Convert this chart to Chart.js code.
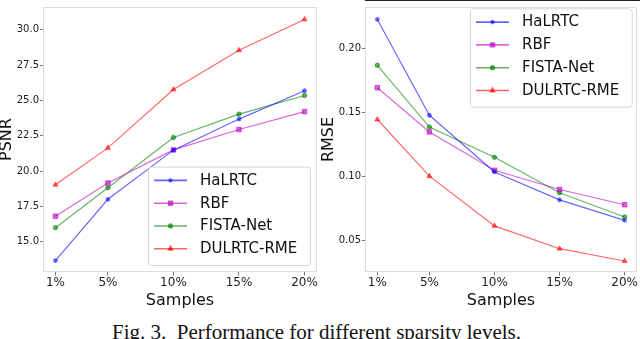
<!DOCTYPE html>
<html><head><meta charset="utf-8">
<script src="https://cdn.jsdelivr.net/npm/chart.js@4/dist/chart.umd.min.js"></script>
<style>
html,body{margin:0;padding:0;background:#fff;width:640px;height:339px;overflow:hidden;position:relative}
.box{position:absolute;top:0;width:320px;height:320px}
#caption{position:absolute;left:112px;top:322px;font-family:"Liberation Serif",serif;font-size:21px;line-height:21px;white-space:pre;color:#111}
</style></head><body>
<div class="box" style="left:0"><canvas id="c1"></canvas></div>
<div class="box" style="left:320px"><canvas id="c2"></canvas></div>
<div id="caption">Fig. 3.  Performance for different sparsity levels.</div>
<script>
// ---- data ----
const samples = [1, 5, 10, 15, 20];
const sampleLabels = ['1%', '5%', '10%', '15%', '20%'];
const methods = ['HaLRTC', 'RBF', 'FISTA-Net', 'DULRTC-RME'];
const psnrHaLRTC = [13.65, 18.0, 21.48, 23.68, 25.69];
const psnrRBF    = [16.8, 19.15, 21.5, 22.94, 24.21];
const psnrFISTA  = [15.99, 18.82, 22.38, 24.03, 25.35];
const psnrDULRTC = [19.03, 21.64, 25.78, 28.56, 30.74];
const rmseHaLRTC = [0.2228, 0.148, 0.1038, 0.082, 0.066];
const rmseRBF    = [0.1695, 0.135, 0.1051, 0.0901, 0.0782];
const rmseFISTA  = [0.187, 0.1388, 0.1152, 0.0876, 0.0686];
const rmseDULRTC = [0.1447, 0.1005, 0.0617, 0.0439, 0.0343];
const psnrTicks = [15, 17.5, 20, 22.5, 25, 27.5, 30];
const rmseTicks = [0.05, 0.10, 0.15, 0.20];

// ---- styles ----
const colors = ['rgba(0,0,255,0.6)', 'rgba(191,0,191,0.6)', 'rgba(0,128,0,0.6)', 'rgba(255,0,0,0.6)'];
const pStyles = ['star', 'rect', 'circle', 'triangle'];
const pRadius = [2.4, 3.2, 2.2, 2.8];
const FONT = 'DejaVu Sans';

function makeDatasets(series) {
  return series.map((vals, i) => ({
    label: methods[i],
    data: samples.map((s, j) => ({x: s, y: vals[j]})),
    borderColor: colors[i],
    backgroundColor: colors[i],
    borderWidth: 1.15,
    pointStyle: pStyles[i],
    pointRadius: pRadius[i],
    pointBorderWidth: i === 0 ? 1.3 : 1,
    pointBackgroundColor: colors[i],
    pointBorderColor: colors[i],
    tension: 0
  }));
}

const framePlugin = {
  id: 'frame',
  beforeDatasetsDraw(chart, args, opts) {
    const {ctx, chartArea: a} = chart;
    ctx.save();
    ctx.strokeStyle = '#dcdcdc';
    ctx.lineWidth = 1;
    ctx.strokeRect(a.left + 0.5, a.top + 0.5, a.right - a.left - 1, a.bottom - a.top - 1);
    if (opts.darkTop) {
      ctx.strokeStyle = '#222';
      ctx.lineWidth = 2;
      ctx.beginPath(); ctx.moveTo(a.left, 0); ctx.lineTo(chart.width, 0); ctx.stroke();
    }
    ctx.restore();
  }
};

const legendPlugin = {
  id: 'boxLegend',
  afterDatasetsDraw(chart, args, o) {
    const ctx = chart.ctx;
    ctx.save();
    ctx.beginPath();
    if (ctx.roundRect) ctx.roundRect(o.x + 0.5, o.y + 0.5, o.w, o.h, 3); else ctx.rect(o.x + 0.5, o.y + 0.5, o.w, o.h);
    ctx.fillStyle = 'rgba(255,255,255,0.8)';
    ctx.fill();
    ctx.strokeStyle = 'rgba(204,204,204,0.8)';
    ctx.lineWidth = 1;
    ctx.stroke();
    chart.data.datasets.forEach((ds, i) => {
      const y = o.y + 13.8 + i * 22.8;
      ctx.strokeStyle = ds.borderColor;
      ctx.fillStyle = ds.borderColor;
      ctx.lineWidth = 1.6;
      ctx.beginPath(); ctx.moveTo(o.x + 6, y); ctx.lineTo(o.x + 39, y); ctx.stroke();
      Chart.helpers.drawPoint(ctx, {pointStyle: ds.pointStyle, radius: ds.pointRadius * 0.85, rotation: 0, borderWidth: 1}, o.x + 22.5, y);
      ctx.fillStyle = '#111';
      ctx.font = '15px "' + FONT + '"';
      ctx.textBaseline = 'middle';
      ctx.textAlign = 'left';
      ctx.fillText(ds.label, o.x + 52, y + 0.5);
    });
    ctx.restore();
  }
};

function makeChart(id, series, yMin, yMax, yTicks, yDec, yTitle, yWidth, titleLH, titlePad, legendPos, darkTop) {
  return new Chart(document.getElementById(id), {
    type: 'line',
    data: {datasets: makeDatasets(series)},
    plugins: [framePlugin, legendPlugin],
    options: {
      responsive: true, maintainAspectRatio: false, animation: false,
      layout: {padding: {top: 0, right: 3, left: 0, bottom: 0}, autoPadding: false},
      plugins: {legend: {display: false}, tooltip: {enabled: false}, boxLegend: legendPos, frame: {darkTop: darkTop}},
      scales: {
        x: {
          type: 'linear', min: 0.05, max: 20.95,
          afterBuildTicks: s => { s.ticks = samples.map(v => ({value: v})); },
          ticks: {callback: v => sampleLabels[samples.indexOf(v)], font: {family: FONT, size: 12}, color: '#222', padding: 0, maxRotation: 0, autoSkip: false},
          grid: {drawOnChartArea: false, drawTicks: true, tickLength: 3.5, color: '#555', tickWidth: 0.8},
          border: {display: false},
          title: {display: true, text: 'Samples', font: {family: FONT, size: 16, lineHeight: 1.2}, color: '#111', padding: {top: 0, bottom: 10}},
          afterFit: s => { s.height = 48; }
        },
        y: {
          min: yMin, max: yMax,
          afterBuildTicks: s => { s.ticks = yTicks.map(v => ({value: v})); },
          ticks: {callback: v => Number(v).toFixed(yDec), font: {family: FONT, size: 10}, color: '#222', padding: 1},
          grid: {drawOnChartArea: false, drawTicks: true, tickLength: 3, color: '#555', tickWidth: 0.8},
          border: {display: false},
          title: {display: true, text: yTitle, font: {family: FONT, size: 16, lineHeight: titleLH}, color: '#111', padding: {top: titlePad, bottom: 0}},
          afterFit: s => { s.width = yWidth; }
        }
      }
    }
  });
}

makeChart('c1', [psnrHaLRTC, psnrRBF, psnrFISTA, psnrDULRTC], 12.85, 31.62, psnrTicks, 1, 'PSNR', 43, 0.9, 0,
  {x: 148, y: 166.6, w: 162, h: 98.4}, false);
makeChart('c2', [rmseHaLRTC, rmseRBF, rmseFISTA, rmseDULRTC], 0.0257, 0.2325, rmseTicks, 2, 'RMSE', 45, 1.0, 1,
  {x: 150, y: 8.3, w: 161.7, h: 98.4}, true);
</script>
</body></html>
